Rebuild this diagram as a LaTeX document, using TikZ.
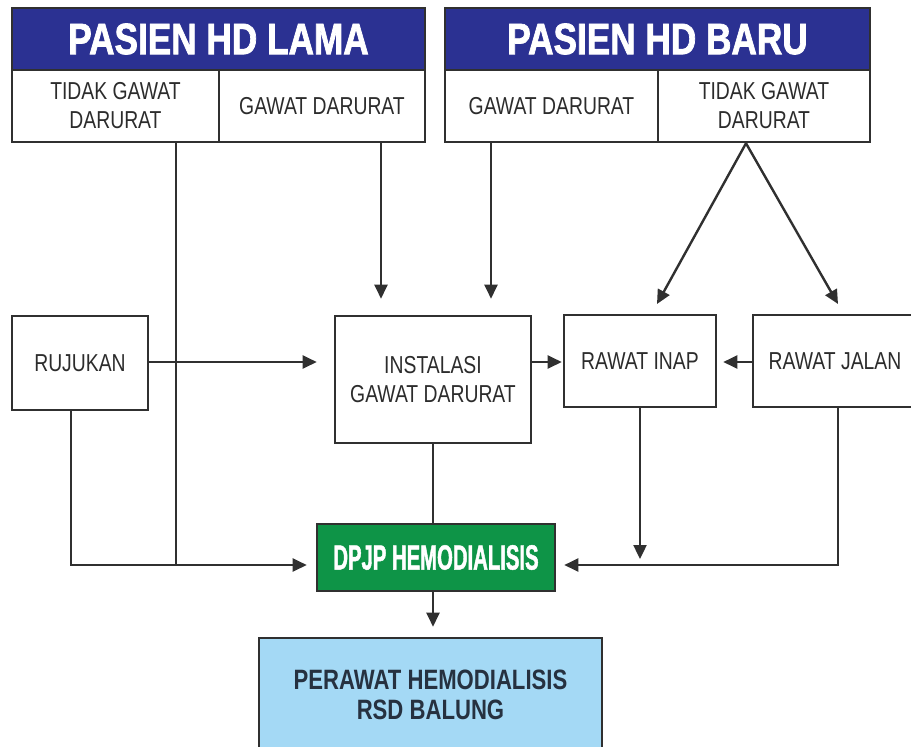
\documentclass[tikz,border=0pt]{standalone}
\usepackage{fontspec}
\setmainfont{Liberation Sans}
\newfontfamily\nf[FakeStretch=0.79]{Liberation Sans}
\newfontfamily\hf[FakeStretch=0.8,FakeBold=1.6]{Liberation Sans}
\newfontfamily\df[FakeStretch=0.58,FakeBold=1.2]{Liberation Sans}
\usetikzlibrary{arrows.meta}
\definecolor{hdblue}{HTML}{2B3192}
\definecolor{dgreen}{HTML}{0E9447}
\definecolor{lblue}{HTML}{A4D9F5}
\definecolor{ink}{HTML}{303030}
\definecolor{txt}{HTML}{2C2C2C}
\definecolor{navytxt}{HTML}{263140}
\tikzset{
  box/.style={draw=ink, line width=2.6pt, fill=white, inner sep=0pt, align=center,
    font=\nf\fontsize{24.5}{29}\selectfont, text=txt},
  hdr/.style={box, fill=hdblue, text=white, font=\hf\bfseries\fontsize{44}{50}\selectfont},
  con/.style={draw=ink, line width=2.4pt},
  arr/.style={con, -{Triangle[length=14pt,width=13pt]}},
}
\begin{document}
\begin{tikzpicture}[x=1pt,y=-1pt]
\useasboundingbox (0,0) rectangle (911,747);
% header blocks
\node[hdr, minimum width=413pt, minimum height=62pt] (lamaH) at (218.5,39) {PASIEN HD LAMA};
\node[box, minimum width=207pt, minimum height=72pt] (lamaA) at (115.5,106) {TIDAK GAWAT\\DARURAT};
\node[box, minimum width=206pt, minimum height=72pt] (lamaB) at (322,106) {GAWAT DARURAT};
\node[hdr, minimum width=425pt, minimum height=62pt] (baruH) at (657.5,39) {PASIEN HD BARU};
\node[box, minimum width=213pt, minimum height=72pt] (baruA) at (551.5,106) {GAWAT DARURAT};
\node[box, minimum width=212pt, minimum height=72pt] (baruB) at (764,106) {TIDAK GAWAT\\DARURAT};
% middle row
\node[box, minimum width=136pt, minimum height=94pt] (ruj) at (80,363) {RUJUKAN};
\node[box, minimum width=196pt, minimum height=127pt] (igd) at (433,379.5) {INSTALASI\\GAWAT DARURAT};
\node[box, minimum width=152pt, minimum height=92pt] (inap) at (640,361) {RAWAT INAP};
\node[box, minimum width=164pt, minimum height=92pt] (jalan) at (835,361) {RAWAT JALAN};
% bottom
\node[box, fill=dgreen, text=white, font=\df\bfseries\fontsize{35}{40}\selectfont,
  minimum width=238pt, minimum height=67pt] (dpjp) at (436,557.5) {DPJP HEMODIALISIS};
\node[box, fill=lblue, text=navytxt, font=\nf\bfseries\fontsize{28}{30}\selectfont,
  minimum width=343pt, minimum height=114pt] (per) at (430.5,695) {PERAWAT HEMODIALISIS\\RSD BALUNG};
% reference coordinates
\coordinate (xA) at (176,0);
\coordinate (xB) at (381,0);
\coordinate (xC) at (491,0);
\coordinate (xR) at (71,0);
\coordinate (xM) at (433,0);
\coordinate (xI) at (640,0);
\coordinate (xJ) at (838,0);
\coordinate (xP) at (746,0);
\coordinate (yL) at (0,565);
\coordinate (yH) at (0,362);
\coordinate (tipL) at (657,304);
\coordinate (tipR) at (838,304);
\coordinate (tipI) at (640,559);
\coordinate (apex) at (baruB.south -| xP);
% connectors
\draw[arr, shorten >=9pt] (ruj.south -| xR) |- (dpjp.west |- yL);
\draw[con] (lamaA.south -| xA) -- (xA |- yL);
\draw[arr, shorten >=16pt] (lamaB.south -| xB) -- (igd.north -| xB);
\draw[arr, shorten >=16pt] (baruA.south -| xC) -- (igd.north -| xC);
\draw[arr] (apex) -- (tipL);
\draw[arr] (apex) -- (tipR);
\draw[arr, shorten >=17pt] (ruj.east |- yH) -- (igd.west |- yH);
\draw[arr, shorten >=1pt] (igd.east |- yH) -- (inap.west |- yH);
\draw[arr, shorten >=6pt] (jalan.west |- yH) -- (inap.east |- yH);
\draw[con] (igd.south -| xM) -- (dpjp.north -| xM);
\draw[arr] (inap.south -| xI) -- (tipI);
\draw[arr, shorten >=8pt] (jalan.south -| xJ) |- (dpjp.east |- yL);
\draw[arr, shorten >=10pt] (dpjp.south -| xM) -- (per.north -| xM);
\end{tikzpicture}
\end{document}
